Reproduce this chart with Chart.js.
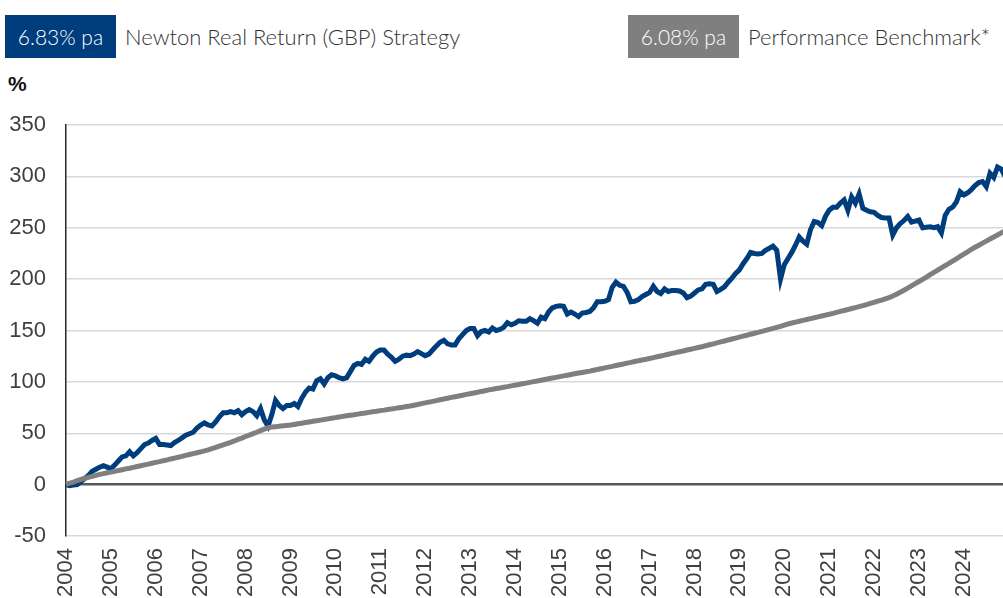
<!DOCTYPE html>
<html>
<head>
<meta charset="utf-8">
<script src="https://cdn.jsdelivr.net/npm/chart.js@4"></script>
<style>
  html, body { margin: 0; padding: 0; background: #fff; }
  body { width: 1003px; height: 598px; overflow: hidden; position: relative; font-family: Lato, "Open Sans", sans-serif; }
  .box { position: absolute; top: 15px; height: 43px; width: 111px; color: #fff; font-size: 21px; line-height: 43px; text-align: center; font-weight: 300; }
  .lbl { position: absolute; top: 15px; line-height: 43px; font-size: 22px; color: #333; font-weight: 300; white-space: nowrap; }
  #unit { position: absolute; left: 8px; top: 72px; font-size: 21px; font-weight: bold; color: #111; font-family: "Liberation Sans", Arial, sans-serif; }
  #wrap { position: absolute; left: 0; top: 100px; }
</style>
</head>
<body>
<div class="box" style="left:5px;background:#003d7c;">6.83% pa</div>
<div class="lbl" style="left:125px;">Newton Real Return (GBP) Strategy</div>
<div class="box" style="left:628px;background:#7f7f7f;">6.08% pa</div>
<div class="lbl" style="left:748px;">Performance Benchmark*</div>
<div id="unit">%</div>
<div id="wrap"><canvas id="perfChart" width="1005" height="540"></canvas></div>
<script>
// cumulative performance, monthly
const years = ['2004', '2005', '2006', '2007', '2008', '2009', '2010', '2011', '2012', '2013', '2014',
    '2015', '2016', '2017', '2018', '2019', '2020', '2021', '2022', '2023', '2024'];
const months = ['Jan', 'Feb', 'Mar', 'Apr', 'May', 'Jun', 'Jul', 'Aug', 'Sep', 'Oct', 'Nov', 'Dec'];
const yTicks = [-50, 0, 50, 100, 150, 200, 250, 300, 350];

const strategy = [
    0, -1, -0.5, 0, 3, 6, 9, 13, 15, 17, 18.5, 17,
    15.5, 19, 23, 27, 28, 32, 28, 31, 35, 39, 40.5, 43,
    45, 39, 39, 38.5, 38, 41, 43, 45.5, 48, 49.5, 51, 55,
    58, 60, 58, 57, 61, 66, 70, 70, 71, 70, 72, 68,
    71, 73, 71, 67, 74, 63, 57, 68, 82, 77, 74, 77,
    77, 79, 76, 84, 90, 94, 93, 101, 103, 98, 104, 107,
    106, 104, 103, 104, 110, 116, 118, 117, 122, 120, 125, 129,
    131, 131, 127, 124, 120, 122, 125, 126, 125.5, 127, 129.5, 127.5,
    125.5, 127, 131, 135, 138.5, 140.5, 137, 136, 136, 142, 146, 150,
    152, 152, 145, 149, 150, 148.5, 152.5, 150, 151, 153, 157.5, 155.5,
    157, 159.5, 159, 159, 161.5, 159.5, 157, 163, 161.5, 168, 172, 173.5,
    174, 173.5, 166, 168, 166, 163.5, 167, 167.5, 168.5, 172, 178, 178,
    178.5, 180, 192, 197, 194, 193, 187, 178, 178.5, 180, 183, 185,
    187, 193, 188, 186, 190.5, 188, 189, 189, 188.5, 186.5, 182, 183.5,
    186.5, 189.5, 190.5, 195, 195.5, 195, 188, 190, 192.5, 197, 201, 205.5,
    209, 215, 220, 226, 225, 224.5, 225, 228, 230, 232, 228, 200,
    214, 220, 226, 233, 241, 237, 234, 248, 256, 255, 252, 261,
    267, 270, 270, 274, 277, 267, 280, 274, 283, 269, 267, 265.5,
    265, 262, 260, 259.5, 259.5, 243, 250, 254, 257, 261, 255.5, 256.5,
    257.5, 250, 250.5, 251, 250, 251, 245, 262, 268, 270, 275, 285,
    282, 284, 287, 291, 294, 295, 290, 303, 299, 309, 307, 300
];
const benchmark = [
    0.5, 1.5, 2.5, 4, 5, 6.2, 7, 8, 9, 10, 10.7, 11.5,
    12.2, 13, 13.7, 14.5, 15.3, 16, 16.8, 17.6, 18.4, 19.2, 20, 20.8,
    21.6, 22.4, 23.3, 24.1, 25, 25.8, 26.6, 27.5, 28.4, 29.3, 30.2, 31,
    31.9, 32.8, 33.8, 35, 36.2, 37.5, 38.7, 40, 41.2, 42.5, 44, 45.3,
    46.8, 48.2, 49.6, 51, 52.5, 54, 55.4, 56, 56.4, 56.8, 57.2, 57.6,
    58, 58.6, 59.2, 59.8, 60.4, 61, 61.6, 62.2, 62.8, 63.4, 64, 64.6,
    65.2, 65.8, 66.4, 67, 67.5, 68, 68.6, 69.2, 69.7, 70.3, 70.9, 71.4,
    72, 72.5, 73.1, 73.7, 74.2, 74.8, 75.3, 76, 76.6, 77.3, 78, 78.8,
    79.6, 80.3, 81, 81.8, 82.6, 83.3, 84.1, 84.9, 85.6, 86.3, 87, 87.8,
    88.5, 89.2, 89.9, 90.7, 91.4, 92.2, 92.8, 93.5, 94.1, 94.8, 95.4, 96.1,
    96.8, 97.4, 98.1, 98.8, 99.5, 100.2, 100.9, 101.6, 102.3, 103, 103.7, 104.4,
    105.1, 105.8, 106.5, 107.2, 107.9, 108.6, 109.2, 109.8, 110.5, 111.3, 112, 112.8,
    113.6, 114.4, 115.1, 115.9, 116.7, 117.4, 118.2, 119, 119.8, 120.5, 121.3, 122,
    122.8, 123.6, 124.4, 125.2, 126, 126.9, 127.7, 128.5, 129.3, 130.1, 131, 131.8,
    132.6, 133.4, 134.2, 135.2, 136.1, 137, 138, 138.9, 139.8, 140.8, 141.7, 142.6,
    143.6, 144.5, 145.4, 146.4, 147.3, 148.2, 149.1, 150.1, 151.1, 152, 153, 154,
    155.3, 156.3, 157.3, 158.2, 159, 159.9, 160.7, 161.6, 162.4, 163.3, 164.1, 165,
    165.8, 166.7, 167.7, 168.6, 169.5, 170.4, 171.4, 172.3, 173.2, 174.2, 175.2, 176.3,
    177.4, 178.5, 179.6, 180.8, 182, 183.5, 185.3, 187.2, 189.2, 191.3, 193.5, 195.6,
    197.7, 199.8, 202, 204.3, 206.5, 208.8, 211, 213.2, 215.3, 217.6, 219.8, 222.1,
    224.4, 226.6, 228.9, 231, 233, 235, 237, 239, 241, 243, 245, 247
];

const labels = [];
years.forEach(y => months.forEach(m => labels.push(m + ' ' + y)));

const tickFont = { family: '"Liberation Sans", Arial, sans-serif', size: 22 };

new Chart(document.getElementById('perfChart'), {
    type: 'line',
    data: {
        labels: labels,
        datasets: [
            {
                label: 'Performance Benchmark*',
                data: benchmark,
                borderColor: '#7f7f7f',
                borderWidth: 5,
                pointRadius: 0,
                tension: 0
            },
            {
                label: 'Newton Real Return (GBP) Strategy',
                data: strategy,
                borderColor: '#003d7c',
                borderWidth: 5,
                pointRadius: 0,
                tension: 0
            }
        ]
    },
    options: {
        responsive: false,
        animation: false,
        layout: { padding: { top: 25, right: 0, left: 0, bottom: 0 } },
        plugins: { legend: { display: false }, tooltip: { enabled: false } },
        scales: {
            x: {
                offset: false,
                grid: { display: false, drawTicks: false },
                border: { display: false },
                afterFit: s => { s.height = 104; s.paddingLeft = 0; s.paddingRight = 0; },
                ticks: {
                    autoSkip: false,
                    minRotation: 90,
                    maxRotation: 90,
                    padding: 12,
                    color: '#404040',
                    font: tickFont,
                    callback: function (value) {
                        const lab = this.getLabelForValue(value);
                        return lab.startsWith('Jan') ? lab.split(' ')[1] : '';
                    }
                }
            },
            y: {
                min: yTicks[0],
                max: yTicks[yTicks.length - 1],
                afterFit: s => { s.width = 66; s.paddingTop = 0; s.paddingBottom = 0; },
                afterBuildTicks: s => { s.ticks = yTicks.map(v => ({ value: v })); },
                grid: {
                    drawTicks: false,
                    color: c => c.tick && c.tick.value === 0 ? '#595959' : '#d9d9d9',
                    lineWidth: c => c.tick && c.tick.value === 0 ? 2.5 : 1.5
                },
                border: { display: true, color: '#262626', width: 1.5 },
                ticks: { padding: 20, color: '#404040', font: tickFont }
            }
        }
    }
});
</script>
</body>
</html>
